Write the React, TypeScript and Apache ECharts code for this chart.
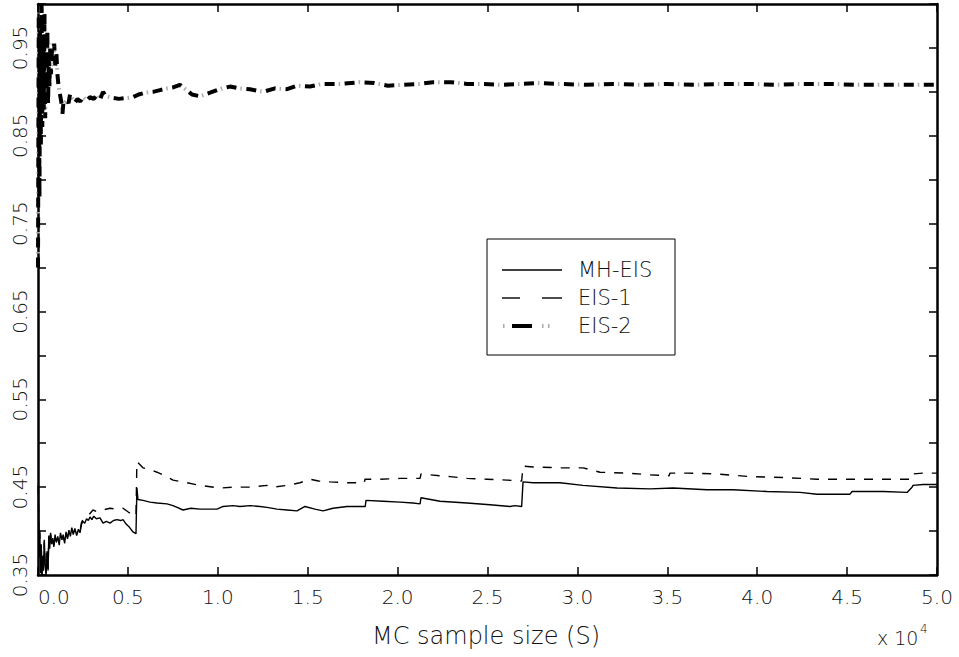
import React, { useEffect, useRef } from "react";
import * as echarts from "echarts";

// ---- Data (MC sample size S, estimate) ----
const mhEis: [number, number][] = [
  [20, 0.452], [60, 0.37], [100, 0.4], [140, 0.352], [180, 0.385], [220, 0.35], [260, 0.372], [300, 0.355],
  [350, 0.39], [400, 0.36], [450, 0.35], [500, 0.375], [560, 0.355], [600, 0.395], [650, 0.38], [700, 0.398],
  [760, 0.385], [820, 0.392], [880, 0.382], [950, 0.396], [1020, 0.387], [1100, 0.394], [1180, 0.384],
  [1250, 0.398], [1330, 0.39], [1400, 0.396], [1480, 0.386], [1560, 0.399], [1640, 0.391], [1720, 0.401],
  [1800, 0.394], [1880, 0.404], [1960, 0.396], [2050, 0.403], [2150, 0.395], [2250, 0.402], [2336, 0.398],
  [2420, 0.408], [2503, 0.411], [2600, 0.409], [2700, 0.414], [2800, 0.412], [2892, 0.416], [3000, 0.413],
  [3100, 0.417], [3250, 0.414], [3448, 0.415], [3615, 0.409], [3800, 0.411], [4005, 0.409], [4200, 0.412],
  [4394, 0.413], [4600, 0.412], [4728, 0.413], [4900, 0.408], [5100, 0.404], [5284, 0.399], [5450, 0.397],
  [5500, 0.449], [5560, 0.436], [5840, 0.435], [6229, 0.433], [6619, 0.432], [7175, 0.431], [7509, 0.429],
  [8065, 0.424], [8500, 0.426], [9010, 0.425], [9500, 0.425], [9956, 0.425], [10290, 0.428], [10846, 0.429],
  [11235, 0.428], [11791, 0.429], [12348, 0.428], [12737, 0.427], [13293, 0.425], [13849, 0.424],
  [14406, 0.423], [14850, 0.428], [15400, 0.425], [15852, 0.423], [16408, 0.426], [17187, 0.428],
  [18077, 0.428], [18200, 0.428], [18243, 0.435], [19189, 0.434], [20134, 0.433], [20857, 0.432],
  [21250, 0.431], [21302, 0.438], [22359, 0.434], [23861, 0.432], [25140, 0.43], [26253, 0.428],
  [26531, 0.429], [26900, 0.428], [26976, 0.456], [27532, 0.455], [29034, 0.455], [30313, 0.452],
  [32204, 0.449], [34039, 0.448], [35319, 0.449], [37209, 0.447], [38656, 0.447], [40547, 0.445],
  [42382, 0.444], [43328, 0.442], [45163, 0.442], [45274, 0.445], [46999, 0.445], [48334, 0.444],
  [48612, 0.45], [48667, 0.452], [49224, 0.453], [50000, 0.453],
];

const eis1: [number, number][] = [
  [20, 0.452], [60, 0.372], [100, 0.398], [140, 0.354], [180, 0.383], [220, 0.351], [260, 0.37], [300, 0.357],
  [350, 0.388], [400, 0.362], [450, 0.352], [500, 0.377], [560, 0.357], [600, 0.393], [650, 0.382], [700, 0.396],
  [760, 0.387], [820, 0.39], [880, 0.384], [950, 0.394], [1020, 0.389], [1100, 0.392], [1180, 0.386],
  [1250, 0.396], [1330, 0.392], [1400, 0.394], [1480, 0.388], [1560, 0.397], [1640, 0.393], [1720, 0.399],
  [1800, 0.396], [1880, 0.402], [1960, 0.398], [2050, 0.401], [2150, 0.397], [2250, 0.4], [2336, 0.4],
  [2420, 0.41], [2503, 0.413], [2700, 0.415], [2892, 0.42], [3059, 0.424], [3300, 0.422], [3615, 0.424],
  [4005, 0.426], [4394, 0.425], [4728, 0.426], [5000, 0.422], [5284, 0.418], [5450, 0.417], [5500, 0.479],
  [5840, 0.472], [6229, 0.47], [6619, 0.467], [7175, 0.462], [7509, 0.458], [8287, 0.455], [9010, 0.452],
  [10123, 0.449], [10846, 0.45], [11791, 0.45], [12737, 0.452], [13071, 0.45], [13849, 0.452],
  [14572, 0.455], [15129, 0.459], [15600, 0.457], [16241, 0.456], [17187, 0.455], [18077, 0.455],
  [18150, 0.455], [18188, 0.459], [19022, 0.459], [20134, 0.46], [20857, 0.46], [21250, 0.46],
  [21302, 0.465], [22359, 0.463], [22915, 0.462], [23861, 0.46], [24973, 0.459], [26086, 0.458],
  [26900, 0.457], [26976, 0.474], [27532, 0.473], [29034, 0.472], [30313, 0.472], [31258, 0.467],
  [32760, 0.466], [34039, 0.464], [35100, 0.463], [35152, 0.466], [36097, 0.466], [37766, 0.465],
  [39601, 0.462], [41437, 0.461], [43328, 0.459], [45163, 0.459], [46999, 0.459], [47944, 0.459],
  [48600, 0.459], [48667, 0.465], [49224, 0.466], [50000, 0.466],
];

const eis2: [number, number][] = [
  [0, 0.7], [40, 0.99], [80, 0.78], [120, 0.97], [160, 0.84], [200, 1.0], [240, 0.86], [280, 0.96],
  [320, 0.88], [360, 0.99], [400, 0.87], [440, 0.95], [480, 0.89], [520, 0.97], [560, 0.885], [600, 0.94],
  [640, 0.905], [680, 0.955], [720, 0.92], [780, 0.95], [840, 0.935], [900, 0.955], [960, 0.93],
  [1020, 0.945], [1080, 0.92], [1150, 0.905], [1224, 0.897], [1300, 0.888], [1360, 0.875], [1420, 0.889],
  [1502, 0.888], [1600, 0.891], [1700, 0.887], [1780, 0.897], [1900, 0.893], [2058, 0.888], [2200, 0.892],
  [2350, 0.889], [2500, 0.894], [2700, 0.89], [2892, 0.894], [3100, 0.892], [3300, 0.897], [3448, 0.891],
  [3615, 0.9], [3800, 0.895], [4171, 0.893], [4500, 0.892], [4950, 0.893], [5284, 0.894], [5600, 0.897],
  [5951, 0.899], [6400, 0.9], [6786, 0.902], [7200, 0.904], [7509, 0.905], [7898, 0.908], [8200, 0.903],
  [8565, 0.897], [9010, 0.895], [9567, 0.899], [10100, 0.903], [10679, 0.906], [11200, 0.904],
  [11791, 0.903], [12514, 0.9], [13182, 0.904], [13849, 0.903], [14406, 0.907], [15129, 0.906],
  [15796, 0.909], [16800, 0.909], [17910, 0.911], [18700, 0.91], [19467, 0.907], [20300, 0.908],
  [21200, 0.909], [21970, 0.911], [23000, 0.911], [23861, 0.909], [24800, 0.909], [25697, 0.908],
  [26800, 0.909], [27754, 0.91], [29000, 0.909], [30500, 0.908], [32000, 0.909], [33500, 0.908],
  [35000, 0.909], [36500, 0.908], [38000, 0.909], [39500, 0.909], [41000, 0.908], [42500, 0.909],
  [44000, 0.909], [45500, 0.908], [47000, 0.908], [48500, 0.908], [50000, 0.908],
];

const seriesNames = ["MH-EIS", "EIS-1", "EIS-2"];
const xTitle = "MC sample size (S)";
const xScaleLabel = "x 10";
const xScaleExp = "4";

const FONT = "DejaVu Sans";

export default function App() {
  const ref = useRef<HTMLDivElement>(null);

  useEffect(() => {
    if (!ref.current) return;
    const chart = echarts.init(ref.current, undefined, { renderer: "svg" });

    const axisLine = { show: true, onZero: false, lineStyle: { color: "#000", width: 2.5 } };
    const axisTick = { show: true, inside: true, length: 8, lineStyle: { color: "#000", width: 1.5 } };
    const labelStyle = { fontSize: 20, color: "#111", fontFamily: FONT, fontWeight: 200 as any };

    const xFmt = (v: number) => (v / 10000).toFixed(1);
    const yFmt = (v: number) => {
      const k = Math.round(v * 100);
      return k % 10 === 5 ? (k / 100).toFixed(2) : "";
    };

    const legendX = 487;
    const legendY = 239;
    const rows = [270, 298, 326];

    const option: any = {
      animation: false,
      backgroundColor: "#fff",
      grid: { left: 38, right: 22, top: 4, bottom: 82, containLabel: false },
      xAxis: [
        {
          type: "value", min: 0, max: 50000, interval: 5000,
          axisLine, axisTick, splitLine: { show: false },
          axisLabel: { ...labelStyle, formatter: xFmt, margin: 12, alignMinLabel: "left" },
        },
        {
          type: "value", position: "top", min: 0, max: 50000, interval: 5000,
          axisLine, axisTick, splitLine: { show: false }, axisLabel: { show: false },
        },
      ],
      yAxis: [
        {
          type: "value", min: 0.35, max: 1.0, interval: 0.05,
          axisLine, axisTick, splitLine: { show: false },
          axisLabel: { ...labelStyle, formatter: yFmt, rotate: 90, margin: 8 },
        },
        {
          type: "value", position: "right", min: 0.35, max: 1.0, interval: 0.05,
          axisLine, axisTick, splitLine: { show: false }, axisLabel: { show: false },
        },
      ],
      series: [
        {
          name: seriesNames[0], type: "line", data: mhEis, showSymbol: false, symbol: "none",
          lineStyle: { color: "#000", width: 1.4 }, z: 3,
        },
        {
          name: seriesNames[1], type: "line", data: eis1, showSymbol: false, symbol: "none",
          lineStyle: { color: "#000", width: 1.4, type: [9, 9] }, z: 3,
        },
        {
          name: seriesNames[2], type: "line", data: eis2, showSymbol: false, symbol: "none",
          lineStyle: { color: "#000", width: 4, type: [10, 10] }, z: 3,
        },
        {
          name: "EIS-2 dots", type: "line", data: eis2, showSymbol: false, symbol: "none",
          lineStyle: { color: "#aaa", width: 4, type: [1.5, 18.5], dashOffset: 5.5 }, z: 2,
        },
      ],
      graphic: [
        {
          type: "rect", z: 100,
          shape: { x: legendX, y: legendY, width: 188, height: 116 },
          style: { fill: "#fff", stroke: "#000", lineWidth: 1 },
        },
        { type: "line", z: 101, shape: { x1: 502, y1: rows[0], x2: 562, y2: rows[0] }, style: { stroke: "#000", lineWidth: 1.4 } },
        { type: "line", z: 101, shape: { x1: 502, y1: rows[1], x2: 520, y2: rows[1] }, style: { stroke: "#000", lineWidth: 1.4 } },
        { type: "line", z: 101, shape: { x1: 542, y1: rows[1], x2: 562, y2: rows[1] }, style: { stroke: "#000", lineWidth: 1.4 } },
        { type: "line", z: 101, shape: { x1: 503, y1: rows[2], x2: 504.5, y2: rows[2] }, style: { stroke: "#aaa", lineWidth: 4 } },
        { type: "line", z: 101, shape: { x1: 512, y1: rows[2], x2: 532, y2: rows[2] }, style: { stroke: "#000", lineWidth: 4 } },
        { type: "line", z: 101, shape: { x1: 542, y1: rows[2], x2: 543.5, y2: rows[2] }, style: { stroke: "#aaa", lineWidth: 4 } },
        { type: "line", z: 101, shape: { x1: 548, y1: rows[2], x2: 549.5, y2: rows[2] }, style: { stroke: "#aaa", lineWidth: 4 } },
        ...seriesNames.map((n, i) => ({
          type: "text", z: 101, x: 578, y: rows[i],
          style: { text: n, fontSize: 21, fontFamily: FONT, fontWeight: 200, fill: "#111", align: "left", verticalAlign: "middle" },
        })),
        {
          type: "text", z: 101, x: 486, y: 636,
          style: { text: xTitle, fontSize: 24, fontFamily: FONT, fontWeight: 200, fill: "#111", align: "center", verticalAlign: "middle" },
        },
        {
          type: "text", z: 101, x: 877, y: 638,
          style: { text: xScaleLabel, fontSize: 19, fontFamily: FONT, fontWeight: 200, fill: "#111", align: "left", verticalAlign: "middle" },
        },
        {
          type: "text", z: 101, x: 920, y: 629,
          style: { text: xScaleExp, fontSize: 12, fontFamily: FONT, fontWeight: 200, fill: "#111", align: "left", verticalAlign: "middle" },
        },
      ],
    };

    chart.setOption(option);
    return () => chart.dispose();
  }, []);

  return (
    <div
      ref={ref}
      style={{ position: "fixed", left: 0, top: 0, width: 959, height: 657, background: "#fff" }}
    />
  );
}
